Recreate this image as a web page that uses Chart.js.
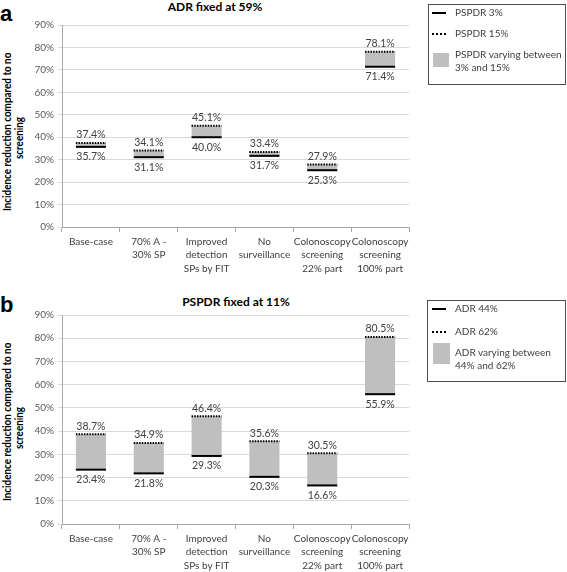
<!DOCTYPE html>
<html><head><meta charset="utf-8">
<script src="https://cdn.jsdelivr.net/npm/chart.js@4.4.1/dist/chart.umd.min.js"></script>
<style>
body{margin:0;width:567px;height:572px;position:relative;background:#fff;overflow:hidden;font-family:Lato,"Open Sans",sans-serif;}
.abs{position:absolute;white-space:nowrap;}
canvas{position:absolute;left:0;}
.panel{font-family:"Liberation Sans",Arial,sans-serif;font-weight:bold;font-size:22px;color:#000;line-height:22px;}
.ttl{font-weight:bold;font-size:12px;color:#000;transform:translateX(-50%);line-height:14px;}
.ytitle{font-weight:bold;font-size:11.5px;line-height:12px;color:#000;text-align:center;transform-origin:center center;}
.lbox{border:1px solid #4d4d4d;box-sizing:border-box;}
.ltext{font-size:10px;color:#404040;line-height:13px;}
.solid{height:0;border-top:2px solid #000;}
.dot{height:0;border-top:2px dotted #000;}
.sq{background:#bfbfbf;}
</style></head><body>

<div class="abs panel" style="left:0;top:3px;">a</div>
<div class="abs panel" style="left:0;top:294px;">b</div>

<div class="abs ttl" style="left:215px;top:0px;">ADR fixed at 59%</div>
<div class="abs ttl" style="left:236px;top:295px;">PSPDR fixed at 11%</div>

<div class="abs ytitle" style="left:-71px;top:138px;width:170px;height:26px;transform:translate(0,-50%) rotate(-90deg) scaleX(0.86);">Incidence reduction compared to no<br>screening</div>
<div class="abs ytitle" style="left:-71px;top:428px;width:170px;height:26px;transform:translate(0,-50%) rotate(-90deg) scaleX(0.86);">Incidence reduction compared to no<br>screening</div>

<canvas id="ca" width="430" height="285" style="top:0;"></canvas>
<canvas id="cb" width="430" height="284" style="top:288px;"></canvas>

<!-- legend a -->
<div class="abs lbox" style="left:428px;top:4px;width:138px;height:81px;"></div>
<div class="abs solid" style="left:432px;top:12px;width:14px;"></div>
<div class="abs ltext" style="left:455px;top:6px;">PSPDR 3%</div>
<div class="abs dot" style="left:432px;top:33px;width:14px;"></div>
<div class="abs ltext" style="left:455px;top:27px;">PSPDR 15%</div>
<div class="abs sq" style="left:433px;top:53px;width:16px;height:14px;"></div>
<div class="abs ltext" style="left:455px;top:48px;">PSPDR varying between<br>3% and 15%</div>

<!-- legend b -->
<div class="abs lbox" style="left:427px;top:300px;width:139px;height:82px;"></div>
<div class="abs solid" style="left:432px;top:308px;width:14px;"></div>
<div class="abs ltext" style="left:455px;top:302px;">ADR 44%</div>
<div class="abs dot" style="left:432px;top:331px;width:14px;"></div>
<div class="abs ltext" style="left:455px;top:325px;">ADR 62%</div>
<div class="abs sq" style="left:433px;top:343px;width:17px;height:21px;"></div>
<div class="abs ltext" style="left:455px;top:346px;">ADR varying between<br>44% and 62%</div>

<script>
const categories = [
  'Base-case',
  ['70% A -', '30% SP'],
  ['Improved', 'detection', 'SPs by FIT'],
  ['No', 'surveillance'],
  ['Colonoscopy', 'screening', '22% part'],
  ['Colonoscopy', 'screening', '100% part']
];
// Panel a: ADR fixed at 59%
const pspdr3 = [35.7, 31.1, 40.0, 31.7, 25.3, 71.4];
const pspdr15 = [37.4, 34.1, 45.1, 33.4, 27.9, 78.1];
// Panel b: PSPDR fixed at 11%
const adr44 = [23.4, 21.8, 29.3, 20.3, 16.6, 55.9];
const adr62 = [38.7, 34.9, 46.4, 35.6, 30.5, 80.5];
const yTicks = [0, 10, 20, 30, 40, 50, 60, 70, 80, 90];

const FONT = 'Lato, "Open Sans", sans-serif';

const rangeLines = {
  id: 'rangeLines',
  afterDatasetsDraw(chart, args, opts) {
    const ctx = chart.ctx;
    const y = chart.scales.y;
    const meta = chart.getDatasetMeta(0);
    ctx.save();
    meta.data.forEach((bar, i) => {
      const half = bar.width / 2;
      const yl = y.getPixelForValue(opts.low[i]);
      const yh = y.getPixelForValue(opts.high[i]);
      ctx.strokeStyle = '#000';
      ctx.lineWidth = 2;
      ctx.setLineDash([]);
      ctx.beginPath(); ctx.moveTo(bar.x - half, yl); ctx.lineTo(bar.x + half, yl); ctx.stroke();
      ctx.setLineDash([1.5, 1.2]);
      ctx.beginPath(); ctx.moveTo(bar.x - half, yh); ctx.lineTo(bar.x + half, yh); ctx.stroke();
      ctx.setLineDash([]);
      ctx.fillStyle = '#404040';
      ctx.font = '10.5px ' + FONT;
      ctx.textAlign = 'center';
      ctx.textBaseline = 'middle';
      ctx.fillText(opts.high[i].toFixed(1) + '%', bar.x, yh - 8);
      ctx.fillText(opts.low[i].toFixed(1) + '%', bar.x, yl + 10);
    });
    ctx.restore();
  }
};

function makeChart(id, low, high, topPad, xHeight) {
  return new Chart(document.getElementById(id), {
    type: 'bar',
    data: {
      labels: categories,
      datasets: [{
        data: low.map((l, i) => [l, high[i]]),
        backgroundColor: '#bfbfbf',
        borderWidth: 0,
        barPercentage: 0.52,
        categoryPercentage: 1
      }]
    },
    options: {
      responsive: false,
      animation: false,
      layout: { padding: { top: topPad, right: 21, left: 0, bottom: 0 } },
      plugins: {
        legend: { display: false },
        tooltip: { enabled: false },
        title: { display: false },
        rangeLines: { low: low, high: high }
      },
      scales: {
        x: {
          grid: { drawOnChartArea: false, drawTicks: true, tickLength: 5, color: '#a6a6a6', offset: true },
          border: { color: '#a6a6a6' },
          ticks: { font: { family: FONT, size: 10, lineHeight: 1.35 }, color: '#404040', maxRotation: 0, autoSkip: false, padding: 3 },
          afterFit(s) { s.height = xHeight; }
        },
        y: {
          min: 0, max: 90,
          afterBuildTicks(s) { s.ticks = yTicks.map(v => ({ value: v })); },
          ticks: { font: { family: FONT, size: 10 }, color: '#595959', padding: 4, callback: v => v + '%' },
          grid: { color: '#d9d9d9', tickLength: 4, drawTicks: true },
          border: { color: '#a6a6a6' },
          afterFit(s) { s.width = 62; }
        }
      }
    },
    plugins: [rangeLines]
  });
}

makeChart('ca', pspdr3, pspdr15, 25, 58);
makeChart('cb', adr44, adr62, 27, 48);
</script>
</body></html>
